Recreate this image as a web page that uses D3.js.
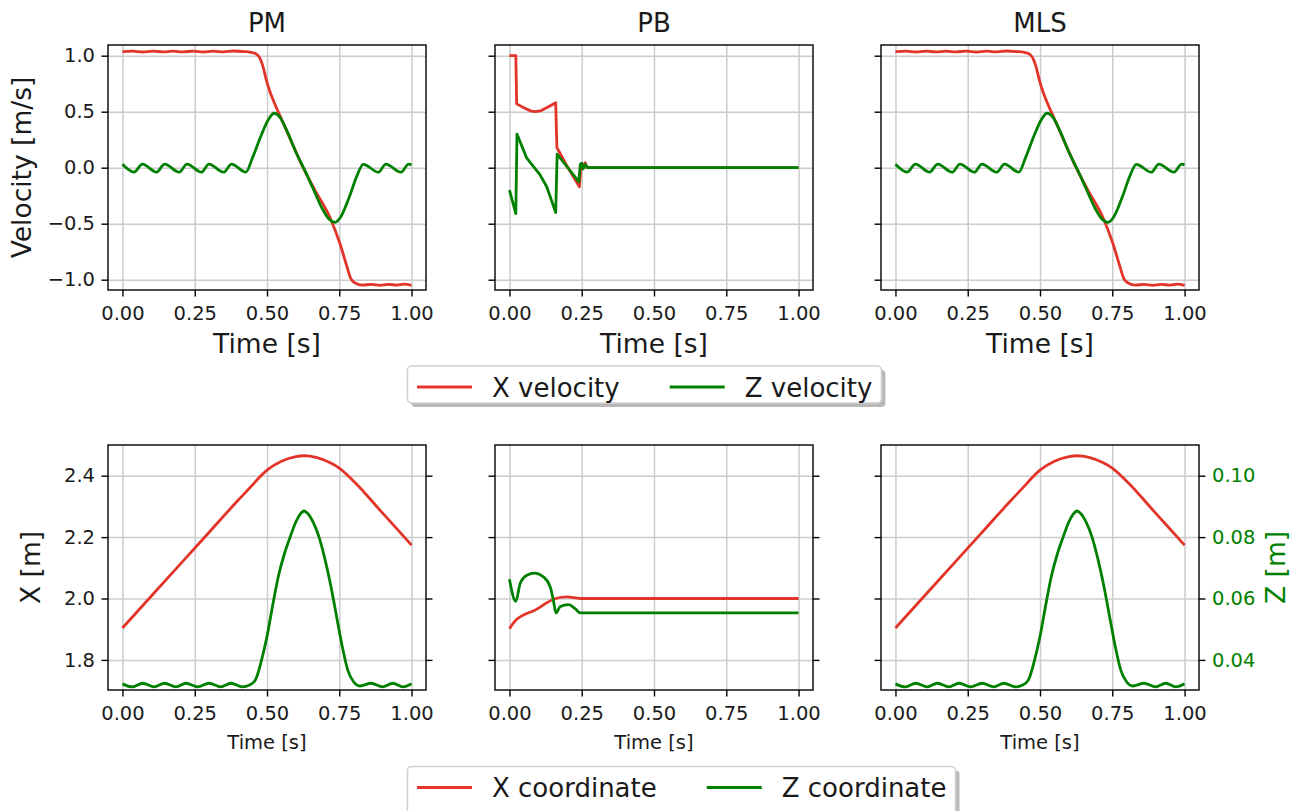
<!DOCTYPE html>
<html>
<head>
<meta charset="utf-8">
<script src="https://cdn.jsdelivr.net/npm/d3@7"></script>
<style>
  body { margin: 0; background: #fff; }
  svg { display: block; font-family: "DejaVu Sans", sans-serif; }
</style>
</head>
<body>
<div id="chart"></div>
<script>
// ---- data ----
const titles = ['PM', 'PB', 'MLS'];
const timeTicks = [0, 0.25, 0.5, 0.75, 1.0];
const velTicks = [-1.0, -0.5, 0, 0.5, 1.0];
const posTicks = [1.8, 2.0, 2.2, 2.4];
const zTicks = [0.04, 0.06, 0.08, 0.10];

// [time, value]; MLS looks the same as PM in the picture
const pmXVel = [[0, 1.036], [0.035, 1.041], [0.07, 1.033], [0.105, 1.041], [0.14, 1.034], [0.175, 1.040],
    [0.21, 1.034], [0.245, 1.041], [0.28, 1.033], [0.315, 1.040], [0.35, 1.034], [0.385, 1.042], [0.42, 1.037],
    [0.445, 1.03], [0.46, 1.02], [0.475, 0.98], [0.4865, 0.9], [0.498, 0.78], [0.51, 0.68], [0.522, 0.60],
    [0.556, 0.40], [0.59, 0.20], [0.625, 0.0], [0.67, -0.22], [0.717, -0.44], [0.752, -0.675], [0.775, -0.87],
    [0.79, -0.99], [0.805, -1.03], [0.83, -1.048], [0.86, -1.042], [0.89, -1.05], [0.92, -1.042], [0.95, -1.048],
    [0.975, -1.04], [1.0, -1.05]];
const pmZVel = [[0, 0.03], [0.04, -0.04], [0.069, 0.032], [0.118, -0.04], [0.146, 0.032], [0.196, -0.04],
    [0.223, 0.032], [0.273, -0.04], [0.299, 0.032], [0.35, -0.04], [0.377, 0.032], [0.427, -0.04], [0.45, 0.09],
    [0.48, 0.29], [0.505, 0.43], [0.524, 0.486], [0.545, 0.45], [0.567, 0.34], [0.60, 0.14], [0.63, -0.02],
    [0.66, -0.19], [0.69, -0.36], [0.715, -0.46], [0.735, -0.488], [0.755, -0.44], [0.785, -0.26], [0.81, -0.08],
    [0.833, 0.03], [0.885, -0.04], [0.911, 0.032], [0.963, -0.04], [0.99, 0.032], [1.0, 0.025]];
const pbXVel = [[0, 1.0], [0.022, 1.0], [0.025, 0.57], [0.05, 0.535], [0.075, 0.505], [0.09, 0.5], [0.11, 0.51],
    [0.135, 0.545], [0.16, 0.58], [0.164, 0.18], [0.2, 0.01], [0.242, -0.17], [0.247, 0.0], [0.255, 0.01],
    [0.262, 0.045], [0.268, 0.0], [1.0, 0.0]];
const pbZVel = [[0, -0.2], [0.022, -0.41], [0.026, 0.30], [0.06, 0.085], [0.106, -0.065], [0.129, -0.17],
    [0.16, -0.40], [0.165, 0.12], [0.24, -0.125], [0.245, 0.03], [0.25, 0.04], [0.255, -0.01], [0.262, 0.03],
    [0.27, 0.0], [1.0, 0.0]];

const pmXPos = [[0, 1.904], [0.1, 2.008], [0.2, 2.112], [0.3, 2.216], [0.4, 2.32], [0.45, 2.37], [0.465, 2.386],
    [0.5, 2.418], [0.55, 2.447], [0.6, 2.462], [0.627, 2.465], [0.67, 2.46], [0.717, 2.443], [0.75, 2.425],
    [0.8, 2.382], [0.9, 2.278], [1.0, 2.174]];
const pmZPos = [[0, 0.0322], [0.035, 0.0312], [0.07, 0.0324], [0.11, 0.0312], [0.145, 0.0324], [0.185, 0.0312],
    [0.22, 0.0324], [0.26, 0.0312], [0.3, 0.0324], [0.34, 0.0312], [0.375, 0.0324], [0.415, 0.0312], [0.44, 0.0318],
    [0.46, 0.0335], [0.48, 0.0395], [0.50, 0.0476], [0.52, 0.058], [0.54, 0.0675], [0.56, 0.0745], [0.58, 0.080],
    [0.60, 0.085], [0.615, 0.0875], [0.628, 0.0885], [0.64, 0.0878], [0.66, 0.0848], [0.68, 0.080], [0.70, 0.073],
    [0.72, 0.0645], [0.74, 0.0545], [0.76, 0.0445], [0.78, 0.0365], [0.80, 0.0328], [0.821, 0.0315],
    [0.86, 0.0324], [0.9, 0.0312], [0.935, 0.0324], [0.97, 0.0312], [1.0, 0.0322]];
const pbXPos = [[0, 1.902], [0.02, 1.927], [0.09, 1.963], [0.16, 2.0], [0.2, 2.005], [0.245, 2.0], [1.0, 2.0]];
const pbZPos = [[0, 0.0663], [0.022, 0.0591], [0.037, 0.0649], [0.06, 0.0676], [0.087, 0.0683], [0.118, 0.067],
    [0.141, 0.0638], [0.152, 0.0594], [0.161, 0.0553], [0.175, 0.0573], [0.204, 0.058], [0.227, 0.0567],
    [0.245, 0.0553], [1.0, 0.0553]];

const velSeries = [[pmXVel, pmZVel], [pbXVel, pbZVel], [pmXVel, pmZVel]];
const posSeries = [[pmXPos, pmZPos], [pbXPos, pbZPos], [pmXPos, pmZPos]];

// ---- layout ----
const W = 1296, H = 811;
const cols = [108, 495, 881], axW = 318;
const topRow = [45, 290], botRow = [445, 690];
const RED = '#e3342a', GREEN = '#008000', GRID = '#cccccc';
const TICK = 19.5, LABEL = 26.5;

const svg = d3.select('#chart').append('svg').attr('width', W).attr('height', H);

const minus = s => s.replace('-', '\u2212');
const fmt2 = d => minus(d3.format('.2f')(d));
const fmt1 = d => minus(d3.format('.1f')(d));

function styleAxis(g, size, color) {
    g.select('.domain').remove();
    g.selectAll('.tick line').attr('stroke', '#000').attr('stroke-width', 1.4);
    g.selectAll('.tick text').attr('fill', color || '#1a1a1a').style('font-size', size + 'px')
        .attr('font-family', 'DejaVu Sans');
}

function drawPanel(i, row, yDomain, yTicks, yFmt, series, opts) {
    const x0 = cols[i], y0 = row[0], y1 = row[1];
    const x = d3.scaleLinear().domain([-0.05, 1.05]).range([x0, x0 + axW]);
    const y = d3.scaleLinear().domain(yDomain).range([y1, y0]);
    const g = svg.append('g');

    // grid
    g.append('g').attr('transform', 'translate(0,' + y1 + ')')
        .call(d3.axisBottom(x).tickValues(timeTicks).tickSize(-(y1 - y0)).tickFormat(''))
        .call(a => { a.select('.domain').remove(); a.selectAll('line').attr('stroke', GRID).attr('stroke-width', 1.5); });
    g.append('g').attr('transform', 'translate(' + x0 + ',0)')
        .call(d3.axisLeft(y).tickValues(yTicks).tickSize(-axW).tickFormat(''))
        .call(a => { a.select('.domain').remove(); a.selectAll('line').attr('stroke', GRID).attr('stroke-width', 1.5); });

    // lines
    const yb = opts.y2 || y;
    const line = (sc, curve) => d3.line().x(d => x(d[0])).y(d => sc(d[1])).curve(curve);
    g.append('path').datum(series[0]).attr('fill', 'none').attr('stroke', RED).attr('stroke-width', 2.8)
        .attr('stroke-linejoin', 'round').attr('d', line(y, opts.curve));
    g.append('path').datum(series[1]).attr('fill', 'none').attr('stroke', GREEN).attr('stroke-width', 2.8)
        .attr('stroke-linejoin', 'round').attr('d', line(yb, opts.curve));

    // axes
    g.append('g').attr('transform', 'translate(0,' + y1 + ')')
        .call(d3.axisBottom(x).tickValues(timeTicks).tickSize(6.5).tickPadding(9.5).tickFormat(fmt2))
        .call(a => styleAxis(a, TICK));
    g.append('g').attr('transform', 'translate(' + x0 + ',0)')
        .call(d3.axisLeft(y).tickValues(yTicks).tickSize(6.5).tickPadding(6.5)
            .tickFormat(opts.yLabels ? yFmt : ''))
        .call(a => styleAxis(a, TICK));
    if (opts.y2) {
        g.append('g').attr('transform', 'translate(' + (x0 + axW) + ',0)')
            .call(d3.axisRight(opts.y2).tickValues(zTicks).tickSize(6.5).tickPadding(6.5)
                .tickFormat(opts.zLabels ? fmt2 : ''))
            .call(a => styleAxis(a, TICK, GREEN));
    }

    // spines
    g.append('rect').attr('x', x0).attr('y', y0).attr('width', axW).attr('height', y1 - y0)
        .attr('fill', 'none').attr('stroke', '#000').attr('stroke-width', 1.4);
    return { x, y };
}

// ---- top row: velocities ----
titles.forEach((t, i) => {
    drawPanel(i, topRow, [-1.092, 1.0955], velTicks, fmt1, velSeries[i],
        { yLabels: i === 0, curve: i === 1 ? d3.curveLinear : d3.curveMonotoneX });
    const cx = cols[i] + axW / 2;
    svg.append('text').attr('x', cx).attr('y', 31.5).attr('text-anchor', 'middle')
        .style('font-size', '26px').attr('fill', '#1a1a1a').text(t);
    svg.append('text').attr('x', cx).attr('y', 352.7).attr('text-anchor', 'middle')
        .style('font-size', LABEL + 'px').attr('fill', '#1a1a1a').text('Time [s]');
});
svg.append('text').attr('transform', 'translate(31,' + (topRow[0] + topRow[1]) / 2 + ') rotate(-90)')
    .attr('text-anchor', 'middle').style('font-size', LABEL + 'px').attr('fill', '#1a1a1a').text('Velocity [m/s]');

// ---- bottom row: positions (Z on twin axis) ----
titles.forEach((t, i) => {
    const z = d3.scaleLinear().domain([0.0302, 0.11]).range([botRow[1], botRow[0]]);
    drawPanel(i, botRow, [1.702, 2.5], posTicks, fmt1, posSeries[i],
        { yLabels: i === 0, zLabels: i === 2, y2: z, curve: d3.curveMonotoneX });
    svg.append('text').attr('x', cols[i] + axW / 2).attr('y', 749).attr('text-anchor', 'middle')
        .style('font-size', TICK + 'px').attr('fill', '#1a1a1a').text('Time [s]');
});
svg.append('text').attr('transform', 'translate(40,' + (botRow[0] + botRow[1]) / 2 + ') rotate(-90)')
    .attr('text-anchor', 'middle').style('font-size', LABEL + 'px').attr('fill', '#1a1a1a').text('X [m]');
svg.append('text').attr('transform', 'translate(1285,' + (botRow[0] + botRow[1]) / 2 + ') rotate(-90)')
    .attr('text-anchor', 'middle').style('font-size', LABEL + 'px').attr('fill', GREEN).text('Z [m]');

// ---- legends ----
function legend(top, labels, height) {
    const left = 407.5;
    const g = svg.append('g');
    const shadow = g.append('rect'), box = g.append('rect');
    let hx = left + 9.5, end = 0;
    const cy = top + 21;
    labels.forEach((lab, k) => {
        g.append('line').attr('x1', hx).attr('x2', hx + 55).attr('y1', cy).attr('y2', cy)
            .attr('stroke', k === 0 ? RED : GREEN).attr('stroke-width', 2.8);
        const txt = g.append('text').attr('x', hx + 75).attr('y', cy + 9.5)
            .style('font-size', '26px').attr('fill', '#1a1a1a').text(lab);
        end = hx + 75 + txt.node().getComputedTextLength();
        hx = end + 50;
    });
    const w = end + 9 - left;
    shadow.attr('x', left + 4).attr('y', top + 4).attr('width', w).attr('height', height).attr('rx', 4)
        .attr('fill', '#b8b8b8');
    box.attr('x', left).attr('y', top).attr('width', w).attr('height', height).attr('rx', 4)
        .attr('fill', '#fff').attr('stroke', '#d0d0d0').attr('stroke-width', 1.5);
}
legend(366, ['X velocity', 'Z velocity'], 37);
legend(766.5, ['X coordinate', 'Z coordinate'], 60);
</script>
</body>
</html>
